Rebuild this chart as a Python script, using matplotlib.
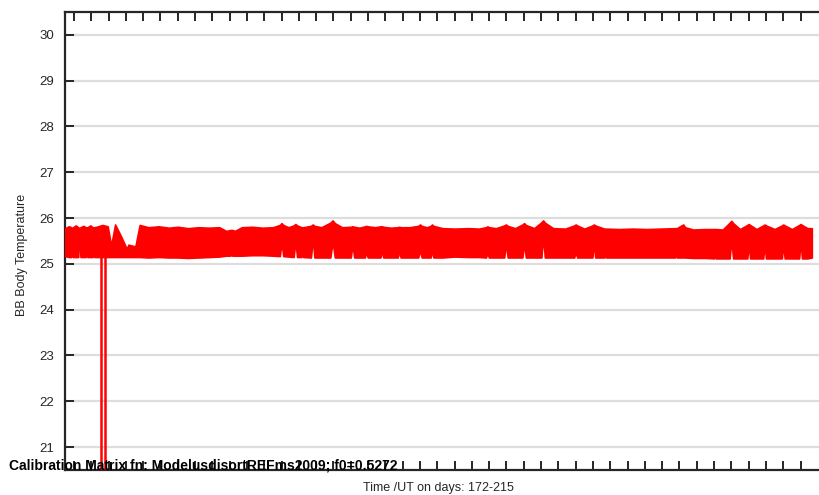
import matplotlib
matplotlib.use("Agg")
import matplotlib.pyplot as plt

plt.rcParams["font.family"] = ["Liberation Sans", "DejaVu Sans"]

# envelope of the BB temperature trace (day of year, upper value, lower value)
band_day = [171.50, 171.70, 171.85, 171.90, 171.95, 172.10, 172.25, 172.30, 172.38, 172.55,
            172.68, 172.72, 172.78, 172.95, 173.08, 173.12, 173.18, 173.40, 173.65, 173.95,
            174.15, 174.38, 174.70, 175.05, 175.15, 175.55, 175.80, 176.30, 176.90, 177.50,
            178.00, 178.60, 179.20, 179.80, 180.40, 180.80, 181.05, 181.10, 181.15, 181.30,
            181.70, 182.30, 182.90, 183.50, 183.90, 184.00, 184.10, 184.40, 184.70, 184.80,
            184.90, 185.15, 185.20, 185.25, 185.70, 185.80, 185.90, 186.30, 186.82, 186.95,
            187.08, 187.50, 188.00, 188.10, 188.20, 188.50, 188.82, 188.90, 188.98, 189.40,
            189.72, 189.80, 189.88, 190.30, 190.72, 190.80, 190.88, 191.40, 191.90, 192.00,
            192.10, 192.40, 192.62, 192.70, 192.78, 193.30, 194.00, 194.80, 195.40, 195.82,
            195.90, 195.98, 196.40, 196.87, 196.97, 197.07, 197.50, 197.92, 198.02, 198.12,
            198.60, 199.02, 199.12, 199.22, 199.70, 200.40, 200.92, 201.00, 201.08, 201.50,
            201.97, 202.05, 202.13, 202.65, 202.70, 202.75, 203.50, 204.30, 205.10, 205.90,
            206.75, 206.80, 206.85, 207.12, 207.22, 207.32, 207.80, 208.50, 209.00, 209.05,
            209.10, 209.50, 209.90, 210.00, 210.10, 210.50, 210.92, 211.00, 211.08, 211.45,
            211.84, 211.92, 212.00, 212.50, 212.92, 213.00, 213.08, 213.50, 213.92, 214.00,
            214.08, 214.40, 214.65]
band_hi = [25.78, 25.82, 25.80, 25.78, 25.80, 25.84, 25.80, 25.78, 25.80, 25.83,
           25.80, 25.78, 25.80, 25.84, 25.80, 25.78, 25.80, 25.82, 25.85, 25.82,
           25.40, 25.86, 25.62, 25.33, 25.42, 25.38, 25.85, 25.80, 25.82, 25.79,
           25.81, 25.78, 25.80, 25.79, 25.80, 25.72, 25.74, 25.74, 25.74, 25.72,
           25.80, 25.81, 25.79, 25.80, 25.85, 25.89, 25.85, 25.80, 25.84, 25.87,
           25.84, 25.80, 25.80, 25.80, 25.83, 25.86, 25.83, 25.80, 25.90, 25.95,
           25.89, 25.80, 25.81, 25.82, 25.81, 25.79, 25.82, 25.83, 25.82, 25.80,
           25.82, 25.82, 25.81, 25.79, 25.80, 25.81, 25.80, 25.80, 25.83, 25.86,
           25.83, 25.80, 25.83, 25.86, 25.83, 25.78, 25.77, 25.78, 25.77, 25.80,
           25.82, 25.80, 25.78, 25.84, 25.86, 25.83, 25.78, 25.86, 25.89, 25.85,
           25.78, 25.91, 25.95, 25.90, 25.78, 25.77, 25.84, 25.86, 25.84, 25.77,
           25.84, 25.86, 25.84, 25.77, 25.77, 25.77, 25.76, 25.77, 25.76, 25.77,
           25.78, 25.78, 25.78, 25.84, 25.86, 25.80, 25.75, 25.76, 25.76, 25.76,
           25.76, 25.75, 25.90, 25.94, 25.89, 25.76, 25.85, 25.87, 25.85, 25.76,
           25.84, 25.86, 25.84, 25.76, 25.84, 25.86, 25.84, 25.76, 25.85, 25.87,
           25.85, 25.78, 25.78]
band_lo = [25.17, 25.15, 25.15, 25.53, 25.15, 25.15, 25.15, 25.72, 25.15, 25.15,
           25.15, 25.66, 25.15, 25.15, 25.15, 25.68, 25.15, 25.15, 25.15, 25.15,
           25.15, 25.15, 25.15, 25.15, 25.15, 25.15, 25.15, 25.14, 25.15, 25.14,
           25.14, 25.13, 25.14, 25.15, 25.16, 25.18, 25.18, 25.35, 25.18, 25.18,
           25.18, 25.19, 25.19, 25.18, 25.17, 25.47, 25.17, 25.16, 25.15, 25.49,
           25.15, 25.15, 25.30, 25.15, 25.14, 25.56, 25.14, 25.14, 25.14, 25.49,
           25.14, 25.14, 25.14, 25.42, 25.14, 25.14, 25.14, 25.27, 25.14, 25.14,
           25.14, 25.30, 25.14, 25.14, 25.14, 25.30, 25.14, 25.14, 25.14, 25.30,
           25.14, 25.14, 25.14, 25.30, 25.14, 25.14, 25.16, 25.15, 25.15, 25.14,
           25.25, 25.14, 25.14, 25.14, 25.45, 25.14, 25.14, 25.14, 25.45, 25.14,
           25.14, 25.14, 25.60, 25.14, 25.14, 25.14, 25.14, 25.28, 25.14, 25.14,
           25.14, 25.49, 25.14, 25.14, 25.28, 25.14, 25.14, 25.14, 25.14, 25.14,
           25.14, 25.28, 25.14, 25.14, 25.14, 25.14, 25.13, 25.13, 25.12, 25.49,
           25.12, 25.12, 25.12, 25.53, 25.12, 25.12, 25.12, 25.45, 25.12, 25.12,
           25.12, 25.42, 25.12, 25.12, 25.12, 25.45, 25.12, 25.12, 25.12, 25.53,
           25.12, 25.12, 25.14]

# short drop-out near day 173.6 (falls below the plotted range)
dip_day = [173.50, 173.56, 173.56, 173.79, 173.79, 173.85]
dip_temp = [25.50, 25.50, 15.00, 15.00, 25.50, 25.50]

y_ticks = [21, 22, 23, 24, 25, 26, 27, 28, 29, 30]
x_ticks = list(range(172, 215))

fig = plt.figure(figsize=(8.19, 4.95), dpi=100)
ax = fig.add_axes([0.0797, 0.0505, 0.9295, 0.9253])
ax.patch.set_visible(False)

ax.fill_between(band_day, band_lo, band_hi, color="#ff0000", lw=1.2, edgecolor="#ff0000",
                joinstyle="round", zorder=3)
ax.plot(dip_day, dip_temp, color="#ff0000", lw=1.8, zorder=3)

ax.set_xlim(171.5, 215.5)
ax.set_ylim(20.5, 30.5)
ax.set_yticks(y_ticks)
ax.set_xticks(x_ticks)
ax.set_xticklabels([])
ax.grid(axis="y", color="#dddddd", lw=1.6, zorder=0)
ax.grid(axis="x", visible=False)
ax.set_axisbelow(True)

ax.tick_params(axis="x", direction="in", top=True, bottom=True, length=6.5, width=1.4, color="#262626")
ax.tick_params(axis="y", direction="in", left=True, right=False, length=6.5, width=1.4,
               color="#262626", labelsize=9.5, labelcolor="#262626", pad=8)
for side in ["left", "top", "bottom"]:
    ax.spines[side].set_linewidth(1.6)
    ax.spines[side].set_color("#262626")
ax.spines["right"].set_visible(False)

fig.text(22 / 819, 1 - 255 / 495, "BB Body Temperature", rotation=90, ha="center", va="center",
         fontsize=9, color="#262626")
fig.text(438 / 819, 1 - 488 / 495, "Time /UT on days: 172-215", ha="center", va="center",
         fontsize=9, color="#262626")

# caption sits on top of the lower axis, as in the original
fig.text(9 / 819, 1 - 465 / 495, "Calibration Matrix fn: ModelusdisortREFms2009; f0=0.5272",
         ha="left", va="center", fontsize=10, fontweight="bold")

fig.savefig("out.png", dpi=100)
